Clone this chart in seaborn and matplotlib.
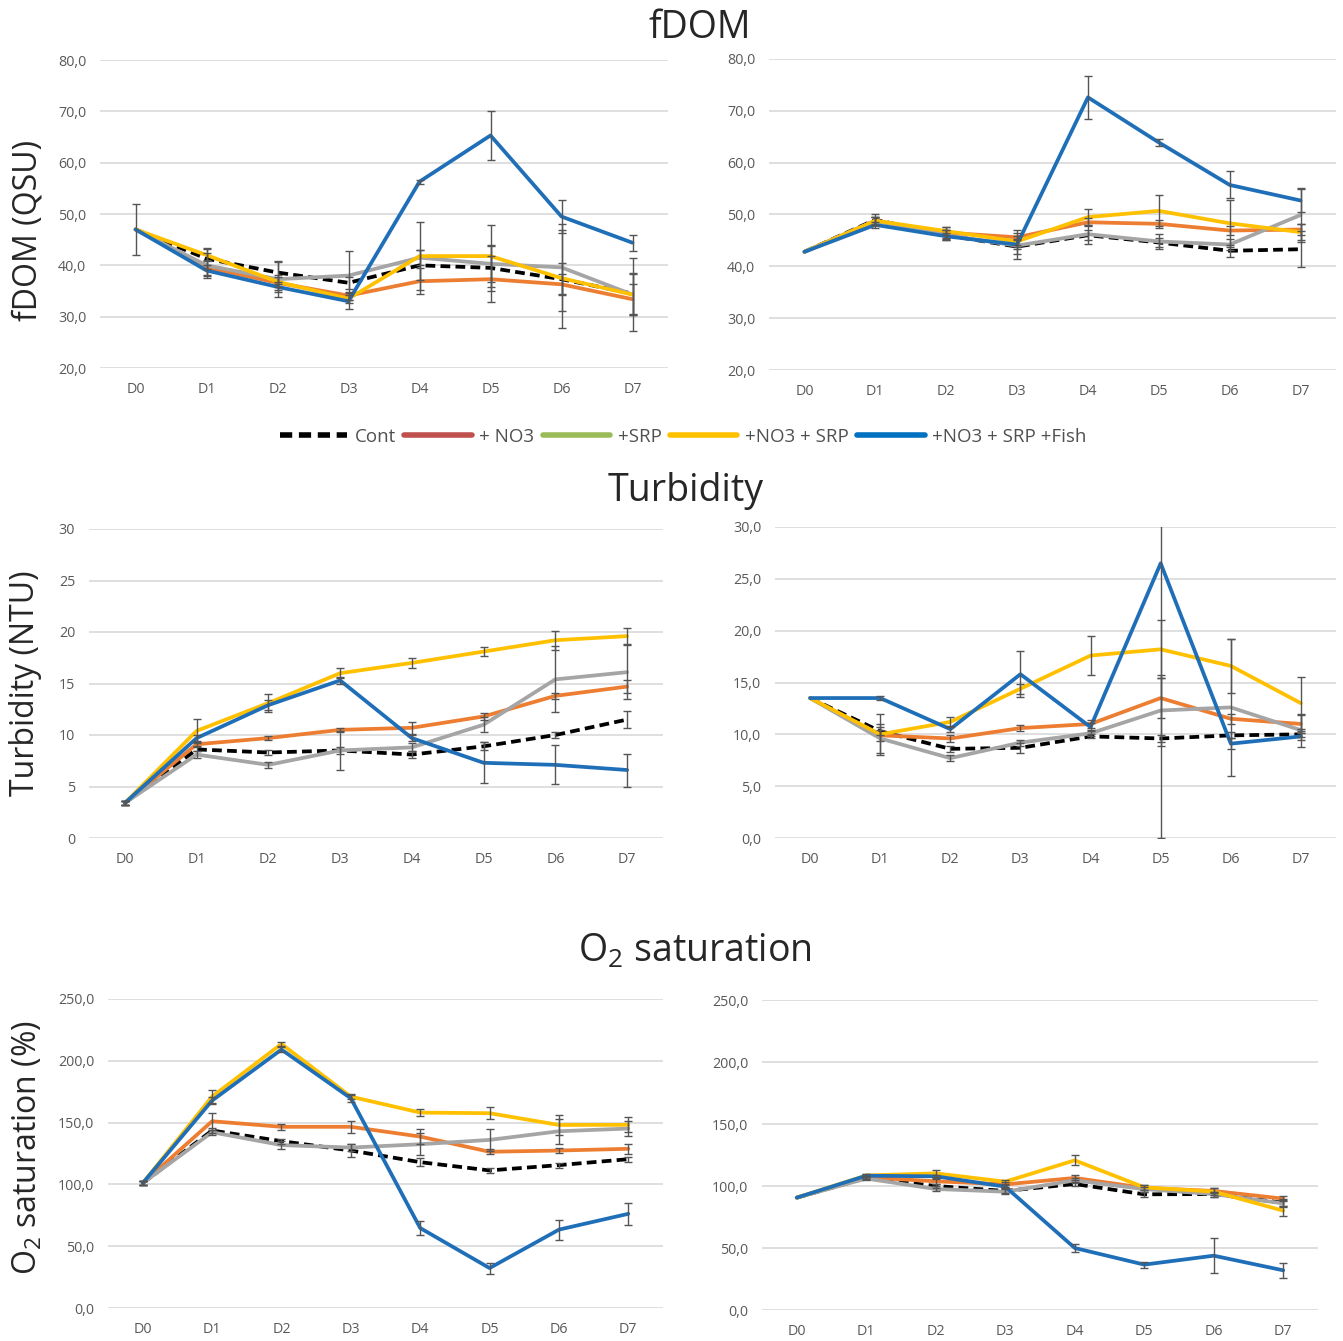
import matplotlib
matplotlib.use("Agg")
import matplotlib.pyplot as plt
import matplotlib.font_manager as fm
from matplotlib.lines import Line2D
from matplotlib.ticker import FixedLocator, FuncFormatter
import numpy as np
import pandas as pd
import seaborn as sns

# ---------------- data ----------------
days = ["D0", "D1", "D2", "D3", "D4", "D5", "D6", "D7"]
treatments = ["Cont", "+ NO3", "+SRP", "+NO3 + SRP", "+NO3 + SRP +Fish"]

# fDOM (QSU), left experiment
fdom_a_cont = [47.0, 41.3, 38.6, 36.6, 40.0, 39.5, 37.3, 34.5]
fdom_a_no3 = [47.0, 39.6, 36.6, 34.1, 36.9, 37.3, 36.3, 33.4]
fdom_a_srp = [47.0, 40.0, 37.3, 38.0, 41.5, 40.3, 39.6, 34.3]
fdom_a_ns = [47.0, 42.0, 36.8, 33.5, 41.8, 41.8, 37.5, 34.3]
fdom_a_fish = [47.0, 39.0, 35.8, 33.0, 56.3, 65.3, 49.5, 44.4]
fdom_a_cont_err = [5.0, 2.0, 2.3, 1.2, 2.9, 4.5, 9.5, 4.0]
fdom_a_no3_err = [0.0, 1.5, 1.5, 0.8, 2.5, 4.5, 2.0, 3.0]
fdom_a_srp_err = [0.0, 2.5, 3.4, 4.8, 1.4, 3.5, 8.5, 7.1]
fdom_a_ns_err = [0.0, 1.2, 1.0, 0.8, 6.6, 6.0, 3.0, 4.0]
fdom_a_fish_err = [0.0, 1.0, 1.0, 1.6, 0.4, 4.7, 3.2, 1.6]

# fDOM (QSU), right experiment
fdom_b_cont = [42.8, 49.0, 46.0, 43.8, 46.0, 44.6, 43.0, 43.3]
fdom_b_no3 = [42.8, 48.8, 46.5, 45.6, 48.5, 48.2, 46.9, 47.1]
fdom_b_srp = [42.8, 48.8, 46.0, 44.0, 46.2, 44.8, 44.2, 49.9]
fdom_b_ns = [42.8, 48.8, 46.8, 44.8, 49.5, 50.7, 48.3, 46.6]
fdom_b_fish = [42.8, 48.0, 45.8, 44.2, 72.6, 63.9, 55.7, 52.7]
fdom_b_cont_err = [0.0, 1.0, 1.0, 1.5, 1.0, 0.8, 1.2, 3.5]
fdom_b_no3_err = [0.0, 0.8, 1.1, 1.4, 0.8, 0.8, 0.8, 1.0]
fdom_b_srp_err = [0.0, 0.8, 1.0, 2.5, 1.8, 1.4, 1.0, 5.3]
fdom_b_ns_err = [0.0, 0.8, 0.8, 1.0, 1.5, 3.0, 4.5, 1.5]
fdom_b_fish_err = [0.0, 0.6, 0.6, 0.8, 4.1, 0.7, 2.6, 2.3]

# Turbidity (NTU), left experiment
turb_a_cont = [3.4, 8.6, 8.3, 8.5, 8.1, 8.9, 10.0, 11.5]
turb_a_no3 = [3.4, 9.1, 9.7, 10.5, 10.7, 11.8, 13.8, 14.7]
turb_a_srp = [3.4, 8.1, 7.1, 8.5, 8.8, 11.0, 15.4, 16.1]
turb_a_ns = [3.4, 10.4, 13.1, 16.0, 17.0, 18.1, 19.2, 19.6]
turb_a_fish = [3.4, 9.7, 12.9, 15.3, 9.7, 7.3, 7.1, 6.6]
turb_a_cont_err = [0.2, 0.2, 0.2, 0.3, 0.3, 0.4, 0.3, 0.8]
turb_a_no3_err = [0.2, 0.2, 0.2, 0.2, 0.6, 0.3, 0.3, 0.6]
turb_a_srp_err = [0.2, 0.3, 0.3, 1.9, 0.4, 0.7, 3.2, 2.6]
turb_a_ns_err = [0.2, 1.2, 0.9, 0.5, 0.5, 0.4, 0.9, 0.8]
turb_a_fish_err = [0.2, 0.3, 0.5, 0.3, 0.3, 2.0, 1.9, 1.6]

# Turbidity (NTU), right experiment
turb_b_cont = [13.5, 10.3, 8.6, 8.7, 9.8, 9.6, 9.9, 10.0]
turb_b_no3 = [13.5, 9.9, 9.6, 10.6, 11.0, 13.5, 11.5, 11.0]
turb_b_srp = [13.5, 9.6, 7.7, 9.2, 10.1, 12.3, 12.6, 10.4]
turb_b_ns = [13.5, 10.0, 11.2, 14.4, 17.6, 18.2, 16.6, 13.0]
turb_b_fish = [13.5, 13.5, 10.5, 15.8, 10.7, 26.5, 9.1, 9.8]
turb_b_cont_err = [0.0, 0.4, 0.3, 0.5, 0.2, 0.3, 0.3, 0.3]
turb_b_no3_err = [0.0, 0.5, 0.3, 0.3, 0.4, 1.9, 0.5, 0.9]
turb_b_srp_err = [0.0, 1.4, 0.3, 0.3, 0.3, 3.4, 6.6, 1.6]
turb_b_ns_err = [0.0, 2.0, 0.5, 0.5, 1.9, 2.8, 2.6, 2.5]
turb_b_fish_err = [0.0, 0.2, 0.3, 2.2, 0.4, 26.5, 0.5, 0.3]

# O2 saturation (%), left experiment
o2_a_cont = [101.0, 143.6, 135.0, 127.4, 118.0, 111.3, 115.6, 120.4]
o2_a_no3 = [101.0, 151.1, 146.6, 146.6, 138.7, 126.4, 127.4, 128.8]
o2_a_srp = [101.0, 142.2, 131.8, 129.8, 132.5, 136.0, 143.0, 145.2]
o2_a_ns = [101.0, 171.0, 213.6, 171.0, 158.1, 157.6, 148.1, 148.2]
o2_a_fish = [101.0, 167.8, 209.1, 169.7, 64.7, 32.3, 63.4, 76.2]
o2_a_cont_err = [1.5, 2.0, 2.0, 5.0, 3.0, 2.0, 2.0, 2.0]
o2_a_no3_err = [1.5, 7.0, 2.5, 5.0, 6.0, 2.0, 2.0, 4.0]
o2_a_srp_err = [1.5, 2.0, 3.0, 3.0, 9.0, 9.0, 10.0, 6.0]
o2_a_ns_err = [1.5, 5.0, 2.0, 2.0, 3.0, 5.0, 8.0, 6.0]
o2_a_fish_err = [1.5, 3.0, 2.0, 3.0, 6.0, 4.5, 8.0, 9.0]

# O2 saturation (%), right experiment
o2_b_cont = [90.6, 106.5, 100.0, 96.0, 101.6, 93.3, 93.5, 86.5]
o2_b_no3 = [90.6, 107.0, 103.8, 101.3, 106.5, 98.5, 96.0, 89.8]
o2_b_srp = [90.6, 106.0, 97.6, 95.4, 104.5, 97.5, 93.5, 86.0]
o2_b_ns = [90.6, 108.5, 110.2, 103.5, 120.7, 98.9, 95.5, 80.1]
o2_b_fish = [90.6, 108.3, 107.8, 99.5, 50.0, 36.6, 43.8, 32.0]
o2_b_cont_err = [0.0, 1.0, 2.0, 2.0, 2.0, 2.0, 2.0, 3.0]
o2_b_no3_err = [0.0, 1.0, 2.0, 2.0, 2.0, 2.0, 2.0, 2.0]
o2_b_srp_err = [0.0, 1.0, 2.0, 2.0, 2.0, 2.0, 2.0, 3.0]
o2_b_ns_err = [0.0, 1.5, 3.0, 1.5, 4.0, 2.0, 3.0, 4.0]
o2_b_fish_err = [0.0, 1.0, 1.0, 1.5, 3.0, 2.5, 14.0, 6.0]

# ---------------- style ----------------
sns.set_theme(style="white")
names = {f.name for f in fm.fontManager.ttflist}
main_font = "Open Sans" if "Open Sans" in names else "DejaVu Sans"
tick_font = "Liberation Sans Narrow" if "Liberation Sans Narrow" in names else main_font
plt.rcParams["font.family"] = [main_font, "DejaVu Sans"]
plt.rcParams["mathtext.fontset"] = "custom"
plt.rcParams["mathtext.rm"] = main_font
plt.rcParams["mathtext.it"] = main_font
plt.rcParams["mathtext.bf"] = main_font

line_colors = {
    "Cont": "#000000",
    "+ NO3": "#ED7D31",
    "+SRP": "#A5A5A5",
    "+NO3 + SRP": "#FFC000",
    "+NO3 + SRP +Fish": "#1F6FB8",
}
legend_colors = ["#000000", "#C0504D", "#9BBB59", "#FFC000", "#0070C0"]
dash_map = {"Cont": (2.6, 1.4), "+ NO3": "", "+SRP": "", "+NO3 + SRP": "",
            "+NO3 + SRP +Fish": ""}

W, H = 1343, 1341


def px_axes(fig, x0, y0, x1, y1):
    return fig.add_axes([x0 / W, 1 - y1 / H, (x1 - x0) / W, (y1 - y0) / H])


def panel(ax, series, errors, ylim, yticks, fmt):
    rows = []
    for t, vals in zip(treatments, series):
        for i, v in enumerate(vals):
            rows.append({"day": i, "value": v, "treatment": t})
    df = pd.DataFrame(rows)
    sns.lineplot(data=df, x="day", y="value", hue="treatment", style="treatment",
                 hue_order=treatments, style_order=treatments,
                 palette=line_colors, dashes=dash_map, linewidth=2.7,
                 legend=False, ax=ax, zorder=3)
    for ln in ax.lines:
        ln.set_solid_capstyle("round")
        ln.set_dash_capstyle("butt")
    x = np.arange(len(days))
    for vals, err in zip(series, errors):
        err = np.asarray(err)
        m = err > 0
        if m.any():
            ax.errorbar(x[m], np.asarray(vals)[m], yerr=err[m], fmt="none",
                        ecolor="#555555", elinewidth=1.0, capsize=3.2,
                        capthick=1.0, zorder=5)
    ax.set_xlim(-0.5, len(days) - 0.5)
    ax.set_ylim(*ylim)
    ax.yaxis.set_major_locator(FixedLocator(yticks))
    ax.yaxis.set_major_formatter(FuncFormatter(fmt))
    ax.set_xticks(x)
    ax.set_xticklabels(days)
    ax.grid(axis="y", color="#D9D9D9", linewidth=1.2, zorder=0)
    ax.set_axisbelow(True)
    for s in ax.spines.values():
        s.set_visible(False)
    ax.tick_params(axis="both", length=0, labelsize=10.3, labelcolor="#595959",
                   pad=10)
    for lab in ax.get_xticklabels() + ax.get_yticklabels():
        lab.set_family([tick_font, "DejaVu Sans"])
    ax.set_xlabel("")
    ax.set_ylabel("")


def comma1(v, _):
    return f"{v:.1f}".replace(".", ",")


def integer(v, _):
    return f"{v:.0f}"


fig = plt.figure(figsize=(W / 100, H / 100), dpi=100)
fig.patch.set_facecolor("white")

# fDOM row
ax1 = px_axes(fig, 100, 60, 668, 368)
panel(ax1, [fdom_a_cont, fdom_a_no3, fdom_a_srp, fdom_a_ns, fdom_a_fish],
      [fdom_a_cont_err, fdom_a_no3_err, fdom_a_srp_err, fdom_a_ns_err, fdom_a_fish_err],
      (20, 80), np.arange(20, 81, 10), comma1)
ax2 = px_axes(fig, 769, 59, 1336, 370)
panel(ax2, [fdom_b_cont, fdom_b_no3, fdom_b_srp, fdom_b_ns, fdom_b_fish],
      [fdom_b_cont_err, fdom_b_no3_err, fdom_b_srp_err, fdom_b_ns_err, fdom_b_fish_err],
      (20, 80), np.arange(20, 81, 10), comma1)

# Turbidity row
ax3 = px_axes(fig, 89, 529, 663, 838)
panel(ax3, [turb_a_cont, turb_a_no3, turb_a_srp, turb_a_ns, turb_a_fish],
      [turb_a_cont_err, turb_a_no3_err, turb_a_srp_err, turb_a_ns_err, turb_a_fish_err],
      (0, 30), np.arange(0, 31, 5), integer)
ax4 = px_axes(fig, 775, 527, 1336, 838)
panel(ax4, [turb_b_cont, turb_b_no3, turb_b_srp, turb_b_ns, turb_b_fish],
      [turb_b_cont_err, turb_b_no3_err, turb_b_srp_err, turb_b_ns_err, turb_b_fish_err],
      (0, 30), np.arange(0, 31, 5), comma1)

# O2 row
ax5 = px_axes(fig, 108, 999, 663, 1308)
panel(ax5, [o2_a_cont, o2_a_no3, o2_a_srp, o2_a_ns, o2_a_fish],
      [o2_a_cont_err, o2_a_no3_err, o2_a_srp_err, o2_a_ns_err, o2_a_fish_err],
      (0, 250), np.arange(0, 251, 50), comma1)
ax6 = px_axes(fig, 762, 1000, 1318, 1310)
panel(ax6, [o2_b_cont, o2_b_no3, o2_b_srp, o2_b_ns, o2_b_fish],
      [o2_b_cont_err, o2_b_no3_err, o2_b_srp_err, o2_b_ns_err, o2_b_fish_err],
      (0, 250), np.arange(0, 251, 50), comma1)

# section titles
fig.text(700 / W, 1 - 28 / H, "fDOM", ha="center", va="center", fontsize=27)
fig.text(686 / W, 1 - 491 / H, "Turbidity", ha="center", va="center", fontsize=27)
fig.text(695 / W, 1 - 952 / H, "O$_2$ saturation", ha="center", va="center",
         fontsize=27)

# y-axis labels
fig.text(28 / W, 1 - 230 / H, "fDOM (QSU)", ha="center", va="center",
         rotation=90, fontsize=23)
fig.text(26 / W, 1 - 683 / H, "Turbidity (NTU)", ha="center", va="center",
         rotation=90, fontsize=23)
fig.text(28 / W, 1 - 1148 / H, "O$_2$ saturation (%)", ha="center", va="center",
         rotation=90, fontsize=23)

# shared legend
handles = []
for t, c in zip(treatments, legend_colors):
    if t == "Cont":
        handles.append(Line2D([], [], color=c, lw=4, linestyle=(0, (2.2, 1.2))))
    else:
        handles.append(Line2D([], [], color=c, lw=4, solid_capstyle="round"))
fig.legend(handles, treatments, loc="center", bbox_to_anchor=(683 / W, 1 - 437 / H),
           ncol=5, frameon=False, fontsize=13.5, handlelength=3.6,
           handletextpad=0.4, columnspacing=0.45, labelcolor="#505050",
           borderpad=0)

fig.savefig("out.png", dpi=100, facecolor="white")
